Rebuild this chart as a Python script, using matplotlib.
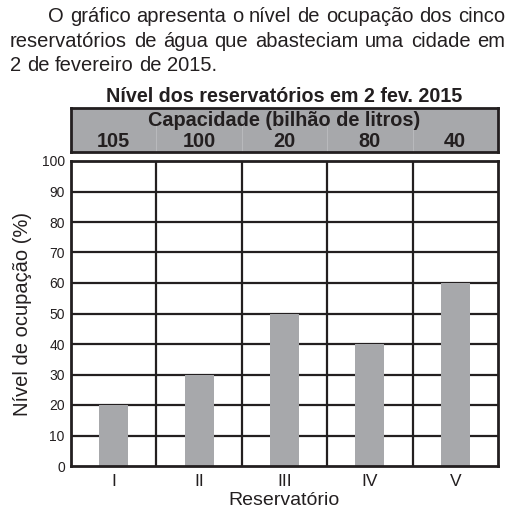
#!/usr/bin/env python3
"""Reservoir occupancy bar chart (2 fev. 2015)."""

import matplotlib

matplotlib.use("Agg")
import matplotlib.pyplot as plt

RESERVOIRS = ["I", "II", "III", "IV", "V"]
LEVELS = [20, 30, 50, 40, 60]
CAPACITIES = ["105", "100", "20", "80", "40"]
Y_TICKS = list(range(0, 101, 10))

INTRO_LINES = [
    "O gráfico apresenta o nível de ocupação dos cinco",
    "reservatórios de água que abasteciam uma cidade em",
    "2 de fevereiro de 2015.",
]

INK = "#231f20"
GREY = "#a7a8ab"
W = 514.0
BODY_SIZE = 14.5

plt.rcParams.update({"font.family": ["Liberation Sans", "DejaVu Sans"]})

fig = plt.figure(figsize=(5.14, 5.14), dpi=100)


def fx(px):
    return px / W


def fy(py):
    return 1 - py / W


# main plot area
ax = fig.add_axes([fx(71), fy(466), fx(498) - fx(71), fy(161) - fy(466)])
x = list(range(len(RESERVOIRS)))
ax.set_xlim(-0.5, len(RESERVOIRS) - 0.5)
ax.set_ylim(0, 100)
for v in Y_TICKS[1:-1]:
    ax.axhline(v, color=INK, linewidth=1.6, zorder=1)
for i in range(1, len(RESERVOIRS)):
    ax.axvline(i - 0.5, color=INK, linewidth=1.6, zorder=1)
ax.bar(x, LEVELS, width=0.34, color=GREY, zorder=2)
for s in ax.spines.values():
    s.set_color(INK)
    s.set_linewidth(2.0)
ax.set_yticks(Y_TICKS)
ax.set_xticks(x)
ax.set_xticklabels(RESERVOIRS, fontsize=12.5, color=INK)
ax.tick_params(axis="y", length=0, pad=4.5, labelsize=10, labelcolor=INK)
ax.tick_params(axis="x", length=0, pad=6)
ax.set_xlabel("Reservatório", fontsize=14, color=INK, va="baseline")
ax.xaxis.set_label_coords(0.5, (466 - 505) / 305)
ax.set_ylabel("Nível de ocupação (%)", fontsize=14.5, color=INK)
ax.yaxis.set_label_coords(-(71 - 32) / 427, 0.5)

# capacity header band
hx = fig.add_axes([fx(71), fy(152), fx(498) - fx(71), fy(108) - fy(152)])
hx.set_xlim(-0.5, len(RESERVOIRS) - 0.5)
hx.set_ylim(0, 1)
hx.set_facecolor(GREY)
hx.set_xticks([])
hx.set_yticks([])
for s in hx.spines.values():
    s.set_color(INK)
    s.set_linewidth(2.0)
for i in range(1, len(RESERVOIRS)):
    hx.plot([i - 0.5, i - 0.5], [0, 0.6], color="#b8b9bc", linewidth=0.8)
hx.text(2, 0.72, "Capacidade (bilhão de litros)", ha="center", va="center",
        fontsize=14.3, fontweight="bold", color=INK)
for i, cap in enumerate(CAPACITIES):
    hx.text(i, 0.24, cap, ha="center", va="center", fontsize=14.3,
            fontweight="bold", color=INK)

fig.text(fx(284), fy(97), "Nível dos reservatórios em 2 fev. 2015", ha="center",
         va="center", fontsize=14.2, fontweight="bold", color=INK)

# justified intro paragraph
line_specs = [(48, 22, True), (10, 47, True), (10, 71, False)]
right_edge = 505
renderer = fig.canvas.get_renderer()
probe_sp = fig.text(0, 0, "a a", fontsize=BODY_SIZE)
probe_nosp = fig.text(0, 0, "aa", fontsize=BODY_SIZE)
space_w = (probe_sp.get_window_extent(renderer).width
           - probe_nosp.get_window_extent(renderer).width)
probe_sp.remove()
probe_nosp.remove()
for text, (left, base, justify) in zip(INTRO_LINES, line_specs):
    words = text.split(" ")
    objs = [fig.text(0, fy(base), w, fontsize=BODY_SIZE, color=INK, va="baseline")
            for w in words]
    widths = [o.get_window_extent(renderer).width for o in objs]
    if justify:
        gap = (right_edge - left - sum(widths)) / (len(words) - 1)
    else:
        gap = space_w
    pos = left
    for o, w in zip(objs, widths):
        o.set_x(fx(pos))
        pos += w + gap

fig.savefig("out.png", dpi=100)
